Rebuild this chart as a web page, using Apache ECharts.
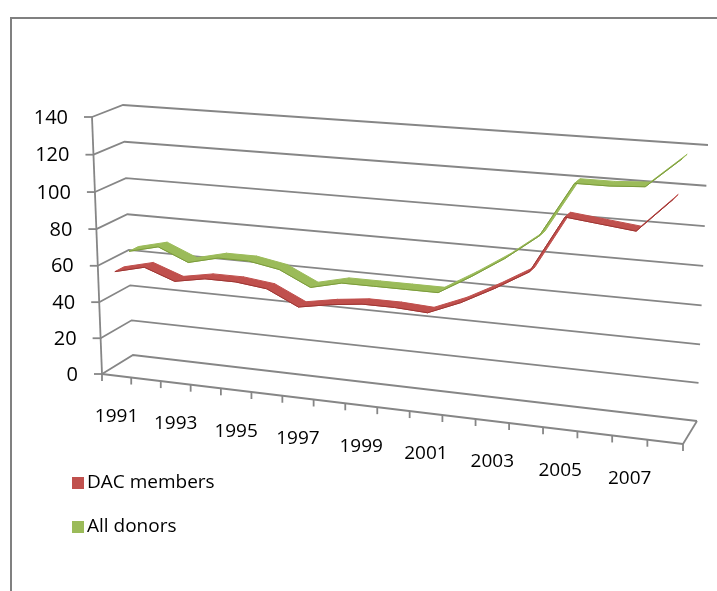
<!DOCTYPE html>
<html>
<head>
<meta charset="utf-8">
<script src="https://cdn.jsdelivr.net/npm/echarts@6/dist/echarts.min.js"></script>
<style>
  html, body { margin: 0; background: #fff; }
  #chart { width: 717px; height: 591px; }
</style>
</head>
<body>
<div id="chart"></div>
<script>
const years = ['1991', '1992', '1993', '1994', '1995', '1996', '1997', '1998', '1999',
  '2000', '2001', '2002', '2003', '2004', '2005', '2006', '2007', '2008']
const dacMembers = [57, 61, 55, 58, 58, 56, 48, 51, 53, 53, 52, 59, 68, 78, 107, 105, 103, 120]
const allDonors = [64, 68, 61, 65, 65, 62, 54, 58, 58, 58, 58, 68, 79, 92, 120, 120, 121, 136]
const yTicks = [0, 20, 40, 60, 80, 100, 120, 140]

const FONT = '"Open Sans", "Liberation Sans", sans-serif'
const GRID_COLOR = '#868686'

// perspective box: square (u,w) -> quad, corners bottom-left, bottom-right, top-right, top-left
function quadMap(q) {
  const [x0, y0] = q[0], [x1, y1] = q[1], [x2, y2] = q[2], [x3, y3] = q[3]
  const dx1 = x1 - x2, dx2 = x3 - x2, dx3 = x0 - x1 + x2 - x3
  const dy1 = y1 - y2, dy2 = y3 - y2, dy3 = y0 - y1 + y2 - y3
  const den = dx1 * dy2 - dx2 * dy1
  const g = (dx3 * dy2 - dx2 * dy3) / den
  const h = (dx1 * dy3 - dx3 * dy1) / den
  const a = x1 - x0 + g * x1, b = x3 - x0 + h * x3, c = x0
  const d = y1 - y0 + g * y1, e = y3 - y0 + h * y3, f = y0
  return (u, w) => {
    const z = g * u + h * w + 1
    return [(a * u + b * w + c) / z, (d * u + e * w + f) / z]
  }
}
const front = quadMap([[102, 374], [683, 444], [692, 160], [92, 117]])
const back = quadMap([[133, 355], [697, 421], [708, 145], [123, 105]])
function P(u, w, t) {
  const p = front(u, w), q = back(u, w)
  return [p[0] + (q[0] - p[0]) * t, p[1] + (q[1] - p[1]) * t]
}
// pixel in the flat grid -> normalized (u, w)
function norm(cs, pt) {
  return [(pt[0] - cs.x) / cs.width, (cs.y + cs.height - pt[1]) / cs.height]
}

function gridItem(params, api) {
  const cs = params.coordSys
  const w = norm(cs, api.coord([0, api.value(1)]))[1]
  const f0 = front(0, w), b0 = back(0, w), b1 = back(1, w)
  return {
    type: 'group',
    children: [
      { type: 'polyline', shape: { points: [f0, b0, b1] }, style: { stroke: GRID_COLOR, lineWidth: 1.8, fill: null } },
      { type: 'line', shape: { x1: f0[0] - 8, y1: f0[1], x2: f0[0], y2: f0[1] }, style: { stroke: GRID_COLOR, lineWidth: 1.8 } },
      {
        type: 'text',
        style: {
          text: String(api.value(1)), x: f0[0] - 24, y: f0[1] + 1,
          align: 'right', verticalAlign: 'middle', fill: '#000', fontSize: 20, fontFamily: FONT
        }
      }
    ]
  }
}

function xAxisItem(params, api) {
  const cs = params.coordSys
  const i = params.dataIndex
  const c = api.coord([i, 0])
  const half = api.size([1, 0])[0] / 2
  const u0 = (c[0] - half - cs.x) / cs.width
  const uc = (c[0] - cs.x) / cs.width
  const line = (p, q) => ({ type: 'line', shape: { x1: p[0], y1: p[1], x2: q[0], y2: q[1] }, style: { stroke: GRID_COLOR, lineWidth: 1.8 } })
  const children = []
  const t0 = front(u0, 0)
  children.push(line(t0, [t0[0], t0[1] + 7]))
  if (i === years.length - 1) {
    const t1 = front(1, 0)
    children.push(line(t1, [t1[0], t1[1] + 7]))
  }
  if (i % 2 === 0) {
    const lp = front(uc, 0)
    children.push({
      type: 'text',
      style: {
        text: years[i], x: lp[0], y: lp[1] + 41,
        align: 'center', verticalAlign: 'middle', fill: '#000', fontSize: 19, fontFamily: FONT
      }
    })
  }
  if (i === 0) {
    children.push(line(front(0, 0), front(0, 1)))
    children.push(line(front(0, 0), front(1, 0)))
    children.push(line(front(1, 0), back(1, 0)))
  }
  return { type: 'group', children }
}

function ribbon(values, depth, fill, edge) {
  const dd = 0.15
  return function (params, api) {
    const cs = params.coordSys
    const i = params.dataIndex
    if (i >= values.length - 1) return { type: 'group', children: [] }
    const a = norm(cs, api.coord([i, api.value(1)]))
    const b = norm(cs, api.coord([i + 1, values[i + 1]]))
    const pts = [
      P(a[0], a[1], depth - dd), P(b[0], b[1], depth - dd),
      P(b[0], b[1], depth + dd), P(a[0], a[1], depth + dd)
    ]
    return {
      type: 'group',
      children: [
        { type: 'polygon', shape: { points: pts }, style: { fill, stroke: fill, lineWidth: 1 } },
        { type: 'polyline', shape: { points: [pts[0], pts[1]] }, style: { stroke: edge, lineWidth: 1, fill: null } }
      ]
    }
  }
}

const chart = echarts.init(document.getElementById('chart'))
chart.setOption({
  animation: false,
  grid: { left: 97, top: 117, width: 590, height: 257 },
  xAxis: { type: 'category', data: years, show: false },
  yAxis: { type: 'value', min: 0, max: 140, interval: 20, show: false },
  legend: {
    data: ['DAC members', 'All donors'],
    orient: 'vertical',
    left: 67,
    top: 468,
    icon: 'rect',
    itemWidth: 12,
    itemHeight: 12,
    itemGap: 24,
    selectedMode: false,
    textStyle: { fontSize: 19, fontFamily: FONT, color: '#000', lineHeight: 20, padding: [0, 0, 0, -2] }
  },
  graphic: [{
    type: 'rect',
    shape: { x: 11, y: 18, width: 800, height: 700 },
    style: { fill: null, stroke: '#808080', lineWidth: 2 },
    silent: true
  }],
  series: [
    {
      type: 'custom', name: 'grid', silent: true,
      data: yTicks.map(v => [0, v]),
      renderItem: gridItem
    },
    {
      type: 'custom', name: 'xaxis', silent: true,
      data: years.map((y, i) => [i, 0]),
      renderItem: xAxisItem
    },
    {
      type: 'custom', name: 'All donors',
      itemStyle: { color: '#9bbb59' },
      data: allDonors.map((v, i) => [i, v]),
      renderItem: ribbon(allDonors, 0.7, '#9bbb59', '#7a9a3a')
    },
    {
      type: 'custom', name: 'DAC members',
      itemStyle: { color: '#c0504d' },
      data: dacMembers.map((v, i) => [i, v]),
      renderItem: ribbon(dacMembers, 0.22, '#c0504d', '#9c3532')
    }
  ]
})
</script>
</body>
</html>
